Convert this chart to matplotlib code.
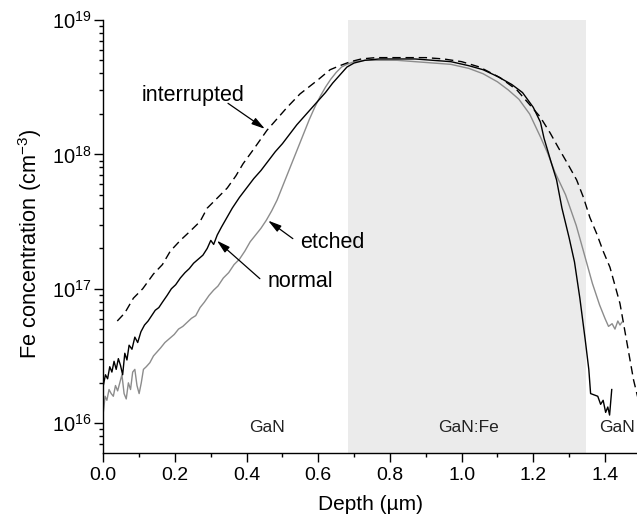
import numpy as np
import matplotlib
matplotlib.use("Agg")
import matplotlib.pyplot as plt
from matplotlib.ticker import MultipleLocator, LogLocator

plt.rcParams['font.family'] = ['Liberation Sans', 'DejaVu Sans']
plt.rcParams['mathtext.fontset'] = 'custom'
plt.rcParams['mathtext.rm'] = 'Liberation Sans'
plt.rcParams['mathtext.it'] = 'Liberation Sans:italic'

# ---- data (depth in um, log10 of Fe concentration in cm^-3) ----
normal_x = [0.000, 0.006, 0.012, 0.018, 0.024, 0.030, 0.036, 0.042, 0.048, 0.054,
            0.060, 0.066, 0.072, 0.080, 0.088, 0.096, 0.105, 0.115, 0.125, 0.135,
            0.145, 0.155, 0.165, 0.178, 0.190, 0.202, 0.215, 0.228, 0.240, 0.252,
            0.265, 0.278, 0.290, 0.300, 0.308, 0.318, 0.330, 0.345, 0.360, 0.380,
            0.400, 0.420, 0.440, 0.460, 0.480, 0.500, 0.520, 0.540, 0.560, 0.580,
            0.600, 0.620, 0.640, 0.660, 0.680, 0.700, 0.730, 0.770, 0.820, 0.870,
            0.920, 0.970, 1.020, 1.060, 1.100, 1.140, 1.170, 1.200, 1.220, 1.230,
            1.250, 1.265, 1.280, 1.300, 1.315, 1.330, 1.345, 1.355, 1.360, 1.370,
            1.380, 1.388, 1.395, 1.402, 1.408, 1.413, 1.419]
normal_log = [16.28, 16.36, 16.33, 16.42, 16.38, 16.46, 16.40, 16.48, 16.43, 16.36,
              16.52, 16.47, 16.58, 16.55, 16.64, 16.60, 16.68, 16.73, 16.76, 16.80,
              16.84, 16.86, 16.90, 16.95, 17.00, 17.03, 17.08, 17.12, 17.15, 17.19,
              17.22, 17.25, 17.30, 17.36, 17.33, 17.40, 17.46, 17.53, 17.60, 17.68,
              17.75, 17.82, 17.88, 17.95, 18.02, 18.08, 18.15, 18.22, 18.28, 18.34,
              18.40, 18.46, 18.53, 18.59, 18.65, 18.68, 18.70, 18.71, 18.71, 18.71,
              18.70, 18.69, 18.66, 18.63, 18.58, 18.52, 18.46, 18.35, 18.24, 18.12,
              17.94, 17.81, 17.60, 17.38, 17.20, 16.93, 16.62, 16.40, 16.22, 16.21,
              16.20, 16.14, 16.17, 16.08, 16.12, 16.06, 16.25]

etched_x = [0.000, 0.005, 0.010, 0.016, 0.022, 0.028, 0.034, 0.040, 0.046, 0.052,
            0.058, 0.064, 0.070, 0.076, 0.082, 0.088, 0.094, 0.100, 0.106, 0.112,
            0.120, 0.130, 0.140, 0.150, 0.160, 0.172, 0.185, 0.198, 0.210, 0.222,
            0.234, 0.246, 0.258, 0.270, 0.282, 0.295, 0.308, 0.320, 0.335, 0.350,
            0.365, 0.380, 0.395, 0.410, 0.425, 0.440, 0.455, 0.470, 0.485, 0.500,
            0.515, 0.530, 0.545, 0.560, 0.575, 0.590, 0.605, 0.620, 0.635, 0.650,
            0.665, 0.680, 0.700, 0.730, 0.770, 0.820, 0.870, 0.920, 0.970, 1.020,
            1.060, 1.100, 1.130, 1.160, 1.190, 1.220, 1.240, 1.260, 1.290, 1.320,
            1.340, 1.365, 1.385, 1.400, 1.410, 1.420, 1.428, 1.436, 1.442, 1.447]
etched_log = [16.08, 16.20, 16.17, 16.25, 16.22, 16.20, 16.28, 16.24, 16.30, 16.36,
              16.22, 16.18, 16.30, 16.25, 16.38, 16.40, 16.28, 16.22, 16.30, 16.40,
              16.42, 16.45, 16.50, 16.53, 16.56, 16.60, 16.63, 16.66, 16.70, 16.72,
              16.75, 16.78, 16.80, 16.86, 16.90, 16.95, 16.99, 17.02, 17.08, 17.12,
              17.18, 17.22, 17.28, 17.35, 17.40, 17.45, 17.51, 17.58, 17.66, 17.76,
              17.86, 17.96, 18.06, 18.16, 18.26, 18.35, 18.43, 18.50, 18.56, 18.61,
              18.65, 18.67, 18.69, 18.70, 18.70, 18.70, 18.69, 18.68, 18.67, 18.64,
              18.60, 18.54, 18.48, 18.41, 18.30, 18.13, 18.01, 17.87, 17.70, 17.47,
              17.28, 17.04, 16.88, 16.78, 16.72, 16.74, 16.70, 16.76, 16.73, 16.75]

interrupted_x = [0.039, 0.060, 0.084, 0.110, 0.140, 0.165, 0.187, 0.215, 0.243, 0.270,
                 0.290, 0.320, 0.346, 0.370, 0.390, 0.420, 0.457, 0.490, 0.513, 0.549,
                 0.597, 0.633, 0.660, 0.690, 0.720, 0.760, 0.800, 0.850, 0.900, 0.950,
                 1.000, 1.050, 1.108, 1.154, 1.190, 1.219, 1.247, 1.270, 1.296, 1.321,
                 1.340, 1.358, 1.377, 1.395, 1.414, 1.442, 1.460, 1.480, 1.500]
interrupted_log = [16.76, 16.82, 16.93, 17.00, 17.11, 17.18, 17.28, 17.36, 17.43, 17.50,
                   17.60, 17.68, 17.75, 17.84, 17.93, 18.04, 18.18, 18.28, 18.35, 18.45,
                   18.55, 18.63, 18.66, 18.69, 18.71, 18.72, 18.72, 18.72, 18.72, 18.71,
                   18.69, 18.65, 18.57, 18.48, 18.37, 18.28, 18.16, 18.05, 17.93, 17.81,
                   17.68, 17.53, 17.41, 17.28, 17.16, 16.89, 16.62, 16.32, 16.10]

gan_fe_region = [0.683, 1.346]
x_ticks = [0.0, 0.2, 0.4, 0.6, 0.8, 1.0, 1.2, 1.4]

fig = plt.figure(figsize=(6.37, 5.29), dpi=100)
ax = fig.add_axes([103.3 / 637, 1 - 452.7 / 529, (637 - 103.3) / 637, (452.7 - 20) / 529])

ax.axvspan(gan_fe_region[0], gan_fe_region[1], color='#ebebeb', lw=0, zorder=0)

ax.plot(etched_x, 10 ** np.array(etched_log), color='#8c8c8c', lw=1.0, zorder=2)
ax.plot(normal_x, 10 ** np.array(normal_log), color='black', lw=1.0, zorder=3)
ax.plot(interrupted_x, 10 ** np.array(interrupted_log), color='black', lw=1.0,
        linestyle=(0, (6, 3.5)), zorder=4)

ax.set_yscale('log')
ax.set_xlim(0, 1.4895)
ax.set_ylim(10 ** 15.78, 1e19)
ax.set_xticks(x_ticks)
ax.xaxis.set_minor_locator(MultipleLocator(0.1))
ax.yaxis.set_major_locator(LogLocator(base=10, numticks=10))
ax.yaxis.set_minor_locator(LogLocator(base=10, subs=np.arange(2, 10), numticks=20))

for s in ['top', 'right']:
    ax.spines[s].set_visible(False)
for s in ['left', 'bottom']:
    ax.spines[s].set_linewidth(1.0)

ax.tick_params(which='major', direction='out', length=6.5, width=1.0, labelsize=14, pad=4)
ax.tick_params(which='minor', direction='out', length=3.2, width=1.0)
ax.tick_params(axis='y', which='major', pad=2, labelsize=14.5)

ax.set_xlabel('Depth (µm)', fontsize=15, labelpad=8)
ax.set_ylabel('Fe concentration (cm$^{-3}$)', fontsize=15.7)
ax.yaxis.set_label_coords(-0.112, 0.482)

# region labels
ax.text(0.457, 10 ** 15.97, 'GaN', fontsize=12.5, ha='center', va='center', color='#222222')
ax.text(1.018, 10 ** 15.97, 'GaN:Fe', fontsize=12.5, ha='center', va='center', color='#222222')
ax.text(1.435, 10 ** 15.97, 'GaN', fontsize=12.5, ha='center', va='center', color='#222222')

# annotations
arrow_kw = dict(arrowstyle='-|>,head_length=0.8,head_width=0.22', color='black',
                lw=0.9, shrinkA=0, shrinkB=0)
ax.text(0.250, 10 ** 18.44, 'interrupted', fontsize=15.5, ha='center', va='center')
ax.annotate('', xy=(0.451, 10 ** 18.19), xytext=(0.348, 10 ** 18.38), arrowprops=arrow_kw)
ax.text(0.638, 10 ** 17.343, 'etched', fontsize=15.5, ha='center', va='center')
ax.annotate('', xy=(0.460, 10 ** 17.507), xytext=(0.529, 10 ** 17.373), arrowprops=arrow_kw)
ax.text(0.549, 10 ** 17.052, 'normal', fontsize=15.5, ha='center', va='center')
ax.annotate('', xy=(0.317, 10 ** 17.358), xytext=(0.437, 10 ** 17.075), arrowprops=arrow_kw)

fig.savefig('out.png', dpi=100)
